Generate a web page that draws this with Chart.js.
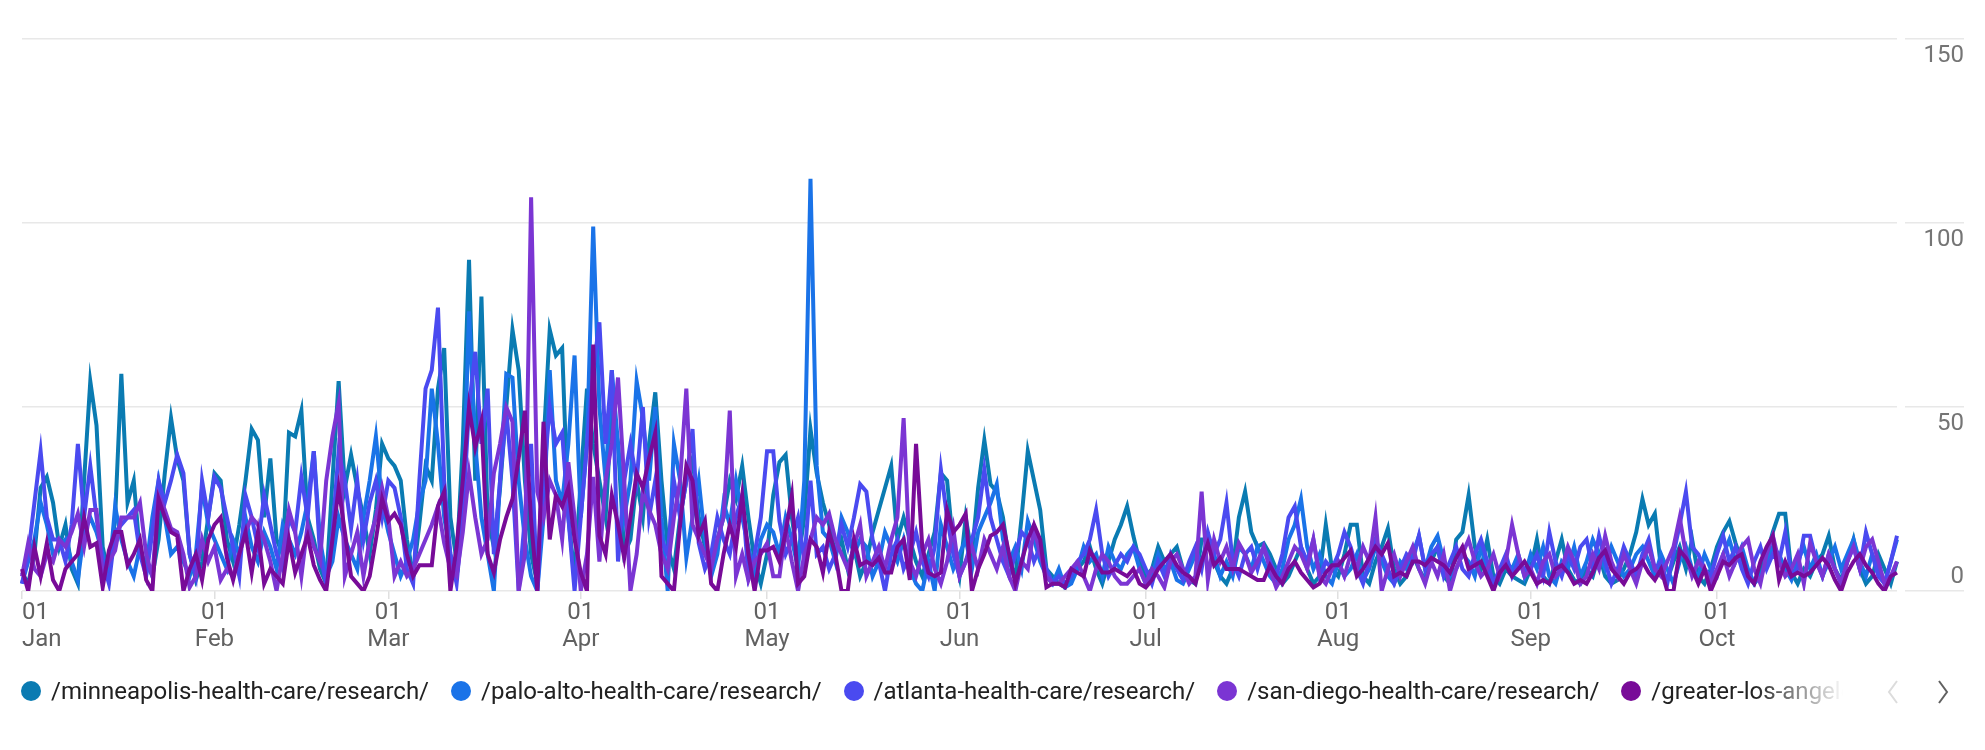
<!DOCTYPE html>
<html>
<head>
<meta charset="utf-8">
<title>Research pages</title>
<script src="https://cdn.jsdelivr.net/npm/chart.js@4.4.1/dist/chart.umd.min.js"></script>
<style>
  html, body { margin: 0; padding: 0; background: #fff; overflow: hidden; }
  #page { position: relative; width: 1985px; height: 750px; font-family: Roboto, sans-serif; }
  #chartBox { position: absolute; left: 0; top: 0; width: 1985px; height: 660px; }
  #legend {
    position: absolute; left: 21px; top: 675px; width: 1850px; height: 32px;
    display: flex; align-items: center; white-space: nowrap; overflow: hidden;
    font-size: 24px; color: #212121;
    -webkit-mask-image: linear-gradient(to right, #000 1732px, rgba(0,0,0,0.15) 1812px, transparent 1822px);
    mask-image: linear-gradient(to right, #000 1732px, rgba(0,0,0,0.15) 1812px, transparent 1822px);
  }
  .item { display: flex; align-items: center; flex-shrink: 0; margin-right: 22px; }
  .dot { width: 20px; height: 20px; border-radius: 50%; margin-right: 10px; }
  .arrow { position: absolute; top: 679px; }
</style>
</head>
<body>
<div id="page">
  <div id="chartBox"><canvas id="myChart"></canvas></div>
  <div id="legend"></div>
  <svg class="arrow" style="left:1886px" width="14" height="26"><polyline points="11,2 3,13 11,24" fill="none" stroke="#dcdcdc" stroke-width="2"/></svg>
  <svg class="arrow" style="left:1936px" width="14" height="26"><polyline points="3,2 11,13 3,24" fill="none" stroke="#616161" stroke-width="2"/></svg>
</div>
<script>
// daily values, 1 Jan - 30 Oct (one line per month)
const minneapolis = [
  5,2,10,28,31,24,12,18,6,2,30,57,45,12,4,20,59,24,30,10,8,4,14,32,47,36,30,10,3,8,20,
  32,30,14,8,18,30,44,41,20,36,14,10,43,42,49,20,14,6,2,30,57,28,37,28,20,10,22,40,
  36,34,30,14,4,18,34,30,55,66,20,8,40,90,30,80,20,12,28,50,71,60,30,10,2,40,71,64,66,20,4,
  30,55,40,30,20,50,40,10,14,30,20,40,54,30,12,6,20,30,36,20,12,6,14,20,30,25,34,20,8,2,
  10,26,35,37,20,8,20,44,32,24,18,10,14,6,12,4,8,16,22,28,34,14,20,14,8,4,10,16,32,30,12,
  4,20,10,28,41,29,27,20,8,4,20,38,30,22,6,4,2,1,4,6,8,12,6,2,8,14,18,23,15,8,
  4,6,12,8,10,12,6,3,2,14,14,8,4,2,6,20,27,16,12,13,10,6,2,4,8,12,6,2,4,18,6,
  4,10,18,18,4,2,8,12,17,6,2,4,10,6,3,8,12,4,2,14,16,26,12,6,14,4,2,6,4,3,2,
  6,14,4,2,8,14,6,3,2,6,4,10,4,2,3,6,10,16,25,18,21,6,3,8,12,6,14,4,2,6,
  12,16,19,13,8,4,2,6,10,16,21,21,5,2,6,4,8,10,15,6,3,8,14,6,2,4,10,6,2,8
];
const paloAlto = [
  2,8,14,24,18,10,12,14,8,3,16,20,16,10,4,23,14,8,4,12,6,20,30,20,10,12,8,4,10,28,18,
  14,10,6,14,10,20,12,8,16,12,6,18,14,10,16,24,38,14,4,8,20,14,10,6,20,30,42,24,
  16,10,4,8,14,24,30,55,40,20,10,4,20,76,40,20,10,0,30,59,58,30,14,4,0,20,60,30,24,40,64,
  20,40,99,50,30,60,40,20,30,57,47,30,50,20,0,40,30,9,20,30,14,4,10,24,18,30,20,12,4,14,
  18,16,10,20,14,6,30,112,34,16,14,8,20,16,10,14,12,4,8,16,12,8,14,6,2,0,8,0,18,12,6,
  10,14,6,16,20,24,29,14,8,12,6,19,14,8,4,2,6,1,2,6,12,8,10,4,12,8,6,10,12,6,
  2,4,10,6,8,3,2,6,10,8,14,10,4,8,4,12,10,6,12,8,4,2,6,14,18,25,12,6,10,4,2,
  8,4,6,10,3,6,12,8,4,2,8,6,10,15,6,12,15,8,4,6,10,8,4,12,6,2,4,8,6,10,4,
  10,6,12,4,2,8,6,12,4,8,14,10,6,12,8,4,6,10,12,8,4,10,6,2,8,12,6,4,10,6,
  4,10,14,8,12,6,2,4,8,12,10,6,3,8,12,6,10,4,8,12,6,10,14,8,4,10,6,2,8,14
];
const atlanta = [
  2,10,24,38,20,14,14,8,18,40,20,34,20,8,2,16,18,20,22,10,4,16,30,24,30,37,32,10,4,30,20,
  31,28,20,12,4,26,20,12,26,18,10,6,20,16,31,20,38,10,2,16,38,30,17,30,14,24,30,20,
  30,28,20,6,2,30,55,60,77,30,10,2,20,50,65,40,55,10,30,49,30,0,20,40,0,30,50,40,43,20,0,
  20,40,60,73,40,60,8,30,40,30,50,20,30,14,10,30,20,30,44,13,6,10,20,14,10,20,26,4,10,20,
  38,38,19,10,14,20,8,30,10,12,6,10,18,12,20,29,27,14,8,0,10,14,6,10,16,8,4,12,33,20,10,
  4,8,14,20,33,20,14,8,4,10,16,14,8,12,6,2,4,2,4,8,10,14,22,10,4,7,10,8,12,10,
  6,2,8,4,10,6,3,8,12,6,16,10,14,24,8,4,10,12,6,12,8,4,10,20,23,12,8,14,4,8,6,
  10,16,12,6,2,8,14,10,6,2,6,10,8,15,6,10,12,4,8,12,6,4,10,14,8,2,6,10,4,8,6,
  6,10,4,16,8,4,10,6,12,14,6,15,8,2,6,12,8,4,10,14,6,8,2,10,18,27,12,10,6,4,
  10,15,8,12,6,2,8,12,6,10,8,16,4,6,15,15,8,4,10,6,2,8,12,6,16,10,4,2,8,15
];
const sanDiego = [
  4,13,6,4,10,8,14,12,16,21,12,22,22,4,8,11,20,20,20,24,10,4,26,22,17,16,10,1,4,14,8,
  12,3,6,4,10,16,20,18,14,8,0,10,22,16,4,18,12,8,30,42,51,4,10,16,4,14,20,28,
  20,4,8,4,6,10,14,18,23,13,6,4,16,32,20,10,14,32,40,50,46,0,10,107,27,20,30,26,14,35,20,
  0,10,31,8,30,40,58,30,0,10,27,22,18,10,6,20,30,55,18,14,10,6,14,20,49,4,10,3,8,10,
  13,4,4,17,8,0,10,14,20,18,21,14,10,6,12,18,4,8,12,6,14,20,47,8,4,10,14,6,2,8,17,
  4,8,12,6,14,10,6,12,4,0,8,6,17,10,4,2,2,4,6,8,4,0,6,10,8,4,2,2,4,6,
  2,6,4,1,8,10,6,2,4,27,3,14,8,12,6,13,10,5,8,12,6,1,4,8,12,10,6,14,4,2,6,
  8,4,10,6,12,8,20,0,6,10,4,8,12,6,2,8,4,10,0,6,10,14,8,4,6,10,4,8,18,10,4,
  6,2,8,10,4,6,12,8,2,4,10,6,15,8,4,10,6,2,8,12,6,4,8,12,20,10,4,8,6,2,
  6,10,4,8,12,14,6,2,10,15,8,4,6,10,2,13,8,4,10,6,2,8,12,6,12,14,8,2,4,8
];
const losAngeles = [
  6,0,12,4,13,3,0,6,8,10,20,12,13,1,11,16,16,7,10,14,3,0,25,20,16,15,0,6,10,3,14,
  18,20,9,3,10,16,5,16,2,6,4,2,14,5,10,15,7,3,0,14,28,16,4,2,0,4,14,25,
  19,21,18,10,4,7,7,7,23,27,0,12,30,50,39,46,10,5,14,20,25,36,49,19,0,46,14,26,23,28,14,
  5,0,67,15,10,26,18,9,20,32,28,36,43,4,2,0,18,34,30,15,19,2,0,10,18,12,26,10,0,11,
  11,12,8,16,26,2,4,14,12,5,16,10,0,0,14,7,8,7,9,5,5,12,14,3,40,12,5,4,5,22,16,
  18,21,0,6,10,15,16,18,10,2,8,14,18,14,1,2,2,1,6,5,4,11,8,5,5,6,5,4,6,2,
  1,3,6,8,10,7,5,4,2,8,13,7,9,6,6,6,5,4,3,3,7,4,2,6,8,5,3,1,2,5,7,
  7,9,11,4,6,9,12,10,13,4,5,4,8,8,7,9,8,7,5,9,12,6,7,8,4,0,5,7,4,6,8,
  5,2,3,2,6,7,5,2,3,2,5,9,11,6,4,2,5,6,8,5,3,6,0,0,11,9,6,2,6,0,
  4,8,7,9,10,4,2,8,12,15,3,8,4,5,4,5,7,9,7,3,0,5,8,10,7,5,2,0,4,5
];

const seriesNames = [
  '/minneapolis-health-care/research/',
  '/palo-alto-health-care/research/',
  '/atlanta-health-care/research/',
  '/san-diego-health-care/research/',
  '/greater-los-angeles-health-care/research/'
];
const seriesColors = ['#0a7bb2', '#1a73e8', '#4a4af0', '#7b35d3', '#780b98'];
const monthNames = ['Jan','Feb','Mar','Apr','May','Jun','Jul','Aug','Sep','Oct','Nov','Dec'];
const yTicks = [0, 50, 100, 150];

const dayCount = 303;
const days = [];
const labels = [];
for (let i = 0; i < dayCount; i++) {
  const d = new Date(2019, 0, 1 + i);
  days.push(d);
  labels.push(d.getFullYear() + '-' + String(d.getMonth() + 1).padStart(2, '0') + '-' + String(d.getDate()).padStart(2, '0'));
}

const allSeries = [minneapolis, paloAlto, atlanta, sanDiego, losAngeles];
allSeries.forEach((s, i) => {
  if (s.length !== dayCount) throw new Error(seriesNames[i] + ' has ' + s.length + ' values');
});

Chart.defaults.font.family = 'Roboto';

var ctx = document.getElementById('myChart').getContext('2d');

var myChart = new Chart(ctx, {
  type: 'line',
  data: {
    labels: labels,
    datasets: allSeries.map((s, i) => ({
      label: seriesNames[i],
      data: s,
      borderColor: seriesColors[i],
      backgroundColor: seriesColors[i],
      borderWidth: 4,
      pointRadius: 0,
      tension: 0,
      fill: false,
      order: allSeries.length - i
    }))
  },
  options: {
    responsive: true,
    maintainAspectRatio: false,
    animation: false,
    layout: { padding: { left: 22, right: 21, top: 39, bottom: 0 } },
    plugins: {
      legend: { display: false },
      tooltip: { enabled: false }
    },
    scales: {
      x: {
        type: 'category',
        border: { display: false },
        grid: {
          drawOnChartArea: false,
          drawTicks: true,
          tickLength: 8,
          lineWidth: 1.5,
          tickColor: c => (c.tick && days[c.tick.value].getDate() === 1) ? '#e0e0e0' : 'rgba(0,0,0,0)'
        },
        afterBuildTicks: scale => {
          scale.ticks = scale.ticks.filter(t => days[t.value].getDate() === 1 || t.value === dayCount - 1);
        },
        afterFit: scale => { scale.height = 69; },
        ticks: {
          autoSkip: false,
          maxRotation: 0,
          align: 'inner',
          padding: 0,
          color: '#616161',
          font: { size: 24, lineHeight: 1.15 },
          callback: function (value) {
            const d = days[value];
            if (d.getDate() !== 1) return '';
            return ['01', monthNames[d.getMonth()]];
          }
        }
      },
      y: {
        position: 'right',
        min: 0,
        max: 150,
        border: { display: false },
        afterBuildTicks: scale => { scale.ticks = yTicks.map(v => ({ value: v })); },
        afterFit: scale => { scale.width = 67; },
        grid: {
          color: '#e8e8e8',
          lineWidth: 1.5,
          tickLength: 67,
          tickBorderDash: [59, 8],
          tickBorderDashOffset: 59
        },
        ticks: {
          crossAlign: 'far',
          labelOffset: 17,
          color: '#757575',
          font: { size: 24, lineHeight: 1.3 },
          // the 0 label sits above its line, the others below
          callback: v => v === 0 ? ['0', '', ''] : String(v)
        }
      }
    }
  }
});

// html legend under the chart, built from the datasets
const legendBox = document.getElementById('legend');
myChart.data.datasets.forEach(ds => {
  const item = document.createElement('div');
  item.className = 'item';
  const dot = document.createElement('span');
  dot.className = 'dot';
  dot.style.background = ds.borderColor;
  const txt = document.createElement('span');
  txt.textContent = ds.label;
  item.appendChild(dot);
  item.appendChild(txt);
  legendBox.appendChild(item);
});
</script>
</body>
</html>
